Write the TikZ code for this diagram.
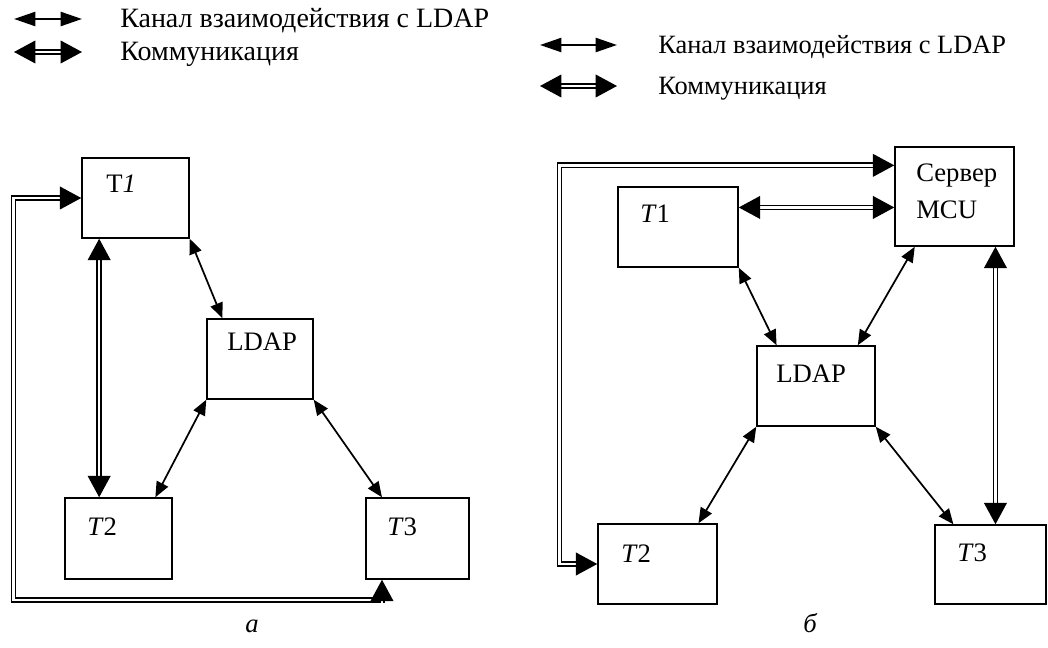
\documentclass[tikz,border=0pt]{standalone}
\usepackage{fontspec}
\setmainfont{Liberation Serif}
\usetikzlibrary{arrows.meta,calc,fit}
\begin{document}
\begin{tikzpicture}[x=0.75pt,y=-0.75pt,
  box/.style={draw, line width=1.1pt, inner sep=0pt},
  lbl/.style={font=\fontsize{20}{24}\selectfont, anchor=base west, inner sep=0pt},
  legtexta/.style={font=\fontsize{21}{25}\selectfont, anchor=base west, inner sep=0pt},
  legtextb/.style={font=\fontsize{19.8}{23}\selectfont, anchor=base west, inner sep=0pt},
  captext/.style={font=\fontsize{20}{24}\selectfont\itshape, anchor=base, inner sep=0pt},
  link/.style={line width=1.3pt, {Triangle[length=11.5pt,width=9.5pt]}-{Triangle[length=11.5pt,width=9.5pt]}},
  leglink/.style={line width=1.7pt, {Triangle[length=16pt,width=10.5pt]}-{Triangle[length=16pt,width=10.5pt]}},
  comm/.style={double, line width=1.2pt, double distance=2pt,
    {Triangle[length=16pt,width=17pt]}-{Triangle[length=16pt,width=17pt]}},
  commend/.style={double, line width=1.2pt, double distance=2pt, line join=miter,
    -{Triangle[length=16pt,width=17pt]}},
]
\useasboundingbox (0,0) rectangle (1048,648);

% ---------- legend, part a ----------
\coordinate (la1) at (14,19);  \coordinate (lb1) at (82,19);
\coordinate (la2) at (14,52);  \coordinate (lb2) at (82,52);
\draw[leglink] (la1) -- (lb1);
\draw[comm] (la2) -- (lb2);
\node[legtexta] (lt1) at (120,28) {Канал взаимодействия с LDAP};
\node[legtexta] (lt2) at (120,61) {Коммуникация};

% ---------- legend, part b ----------
\coordinate (ra1) at (540,45); \coordinate (rb1) at (617,45);
\coordinate (ra2) at (540,86); \coordinate (rb2) at (617,86);
\draw[leglink] (ra1) -- (rb1);
\draw[comm] (ra2) -- (rb2);
\node[legtextb] (rt1) at (658,54) {Канал взаимодействия с LDAP};
\node[legtextb] (rt2) at (658,95) {Коммуникация};

% ---------- scheme a ----------
\node[box, fit={(82,158) (189,238)}] (at1) {};
\node[box, fit={(207,319) (313,399)}] (aldap) {};
\node[box, fit={(65,498) (172,579)}] (at2) {};
\node[box, fit={(366,498) (469,579)}] (at3) {};

\node[lbl] (at1l) at (106,193) {Т\textit{1}};
\node[lbl] (aldapl) at (227,350) {LDAP};
\node[lbl] (at2l) at (87,535) {\textit{T}2};
\node[lbl] (at3l) at (387,535) {\textit{T}3};

\draw[link] (at1.south east) -- ($(aldap.north west)!0.15!(aldap.north east)$);
\draw[link] (aldap.south west) -- ($(at2.north west)!0.84!(at2.north east)$);
\draw[link] (aldap.south east) -- ($(at3.north west)!0.16!(at3.north east)$);

\coordinate (a12) at ($(at1.south west)!0.165!(at1.south east)$);
\draw[comm] (a12) -- (a12 |- at2.north);

% outer loop from T3 round to T1
\coordinate (a3b) at ($(at3.south west)!0.16!(at3.south east)$);
\coordinate (acl) at (13.5,600);
\coordinate (acr) at (a3b |- acl);
\coordinate (acu) at (acl |- at1.west);
\draw[commend] (acr) -- (acl) -- (acu) -- (at1.west);
\draw[commend] ($(acr)+(0,2.5)$) -- (a3b);

\node[captext] (capa) at (252,632) {а};

% ---------- scheme b ----------
\node[box, fit={(895,147) (1014,246)}] (bmcu) {};
\node[box, fit={(618,187) (738,267)}] (bt1) {};
\node[box, fit={(757,346) (875,426)}] (bldap) {};
\node[box, fit={(598,524) (717,604)}] (bt2) {};
\node[box, fit={(935,525) (1046,604)}] (bt3) {};

\node[lbl] (bmcul1) at (916,182) {Сервер};
\node[lbl] (bmcul2) at (916,219) {MCU};
\node[lbl] (bt1l) at (640,223) {\textit{T}1};
\node[lbl] (bldapl) at (776,382) {LDAP};
\node[lbl] (bt2l) at (621,562) {\textit{T}2};
\node[lbl] (bt3l) at (957,561) {\textit{T}3};

\draw[link] (bt1.south east) -- ($(bldap.north west)!0.17!(bldap.north east)$);
\draw[link] ($(bldap.north west)!0.85!(bldap.north east)$) -- ($(bmcu.south west)!0.17!(bmcu.south east)$);
\draw[link] (bldap.south west) -- ($(bt2.north west)!0.84!(bt2.north east)$);
\draw[link] (bldap.south east) -- ($(bt3.north west)!0.17!(bt3.north east)$);

\coordinate (b1m) at ($(bt1.north east)!0.26!(bt1.south east)$);
\draw[comm] (b1m) -- (b1m -| bmcu.west);

\coordinate (bm3) at ($(bmcu.south west)!0.84!(bmcu.south east)$);
\draw[comm] (bm3) -- (bm3 |- bt3.north);

% outer loop from the server round to T2
\coordinate (bmo) at ($(bmcu.north west)!0.19!(bmcu.south west)$);
\coordinate (bx) at (559.5,0);
\coordinate (bcu) at (bx |- bmo);
\coordinate (bcl) at (bx |- bt2.west);
\draw[comm, line join=miter] (bmo) -- (bcu) -- (bcl) -- (bt2.west);

\node[captext] (capb) at (810,632) {б};
\end{tikzpicture}
\end{document}
